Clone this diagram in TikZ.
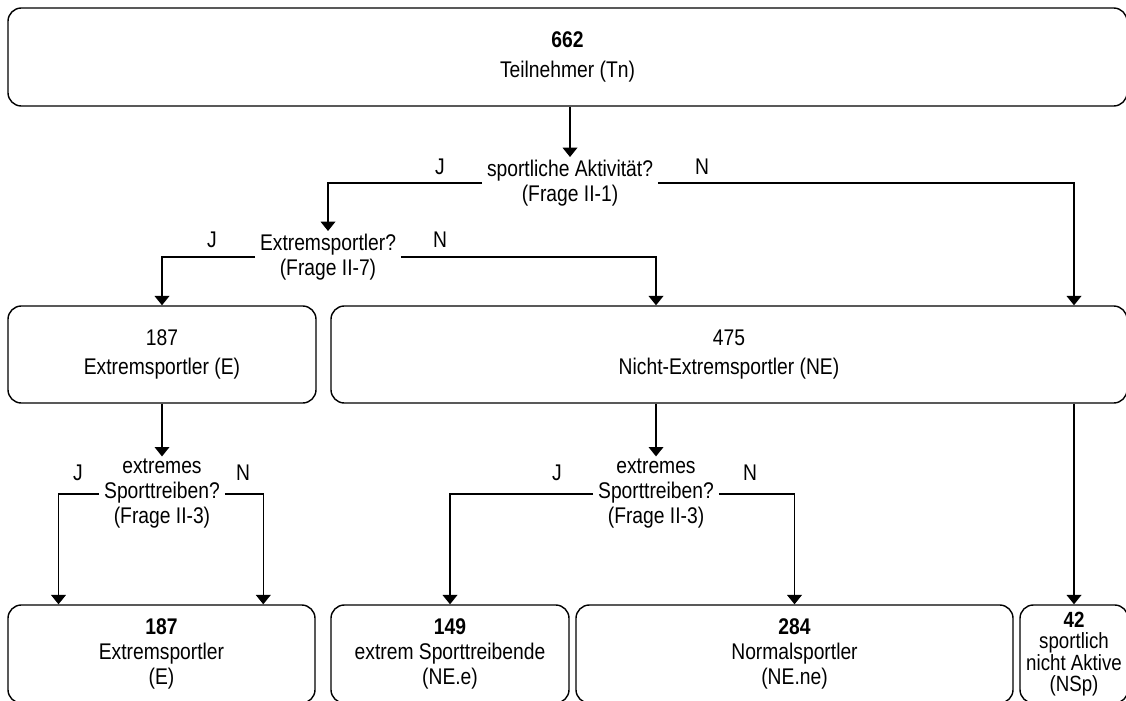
\documentclass[tikz,border=0pt]{standalone}
\usepackage{fontspec}
\setmainfont{Liberation Sans}[FakeStretch=0.85]
\usetikzlibrary{arrows.meta,calc}

% font sizes with different line spacings
\newcommand\fsTop{\fontsize{17pt}{22.5pt}\selectfont}
\newcommand\fsMid{\fontsize{17pt}{21.75pt}\selectfont}
\newcommand\fsAsk{\fontsize{17pt}{18.75pt}\selectfont}
\newcommand\fsLow{\fontsize{17pt}{18.5pt}\selectfont}
\newcommand\fsTight{\fontsize{16.5pt}{16pt}\selectfont}

\tikzset{
  box/.style={draw, line width=1.05pt, rounded corners=10pt, inner sep=0pt, align=center},
  ask/.style={align=center, inner xsep=3.5pt, inner ysep=2pt, font=\fsAsk},
  yn/.style={inner sep=0pt, font=\fsAsk},
  arr/.style={line width=1.05pt, -{Triangle[width=11pt,length=7pt]}},
}

\begin{document}
\begin{tikzpicture}[x=0.75pt,y=-0.75pt]
\useasboundingbox (0,0) rectangle (1126,700);
\clip (0,0) rectangle (1126,700);

% result boxes
\node[box, font=\fsTop, minimum width=839.25pt, minimum height=73.5pt] (tn) at (567.5,57)
  {\textbf{662}\\Teilnehmer (Tn)};
\node[box, font=\fsMid, minimum width=231pt, minimum height=72.75pt] (ex) at (162,354.5)
  {187\\Extremsportler (E)};
\node[box, font=\fsMid, minimum width=597pt, minimum height=72.75pt] (ne) at (729,354.5)
  {475\\Nicht-Extremsportler (NE)};
\node[box, font=\fsLow, minimum width=230.25pt, minimum height=73.5pt] (bex) at (161.5,654)
  {\textbf{187}\\Extremsportler\\(E)};
\node[box, font=\fsLow, minimum width=178.5pt, minimum height=73.5pt] (nee) at (450,654)
  {\textbf{149}\\extrem Sporttreibende\\(NE.e)};
\node[box, font=\fsLow, minimum width=327.75pt, minimum height=73.5pt] (nene) at (794.5,654)
  {\textbf{284}\\Normalsportler\\(NE.ne)};
\node[box, font=\fsTight, minimum width=81pt, minimum height=73.5pt] (nsp) at (1074,654)
  {\textbf{42}\\sportlich\\nicht Aktive\\(NSp)};

% questions
\node[ask] (q1) at (570,183) {sportliche Aktivität?\\(Frage II-1)};
\node[ask] (q2) at (328,257) {Extremsportler?\\(Frage II-7)};
\node[ask] (q3) at (162,494) {extremes\\Sporttreiben?\\(Frage II-3)};
\node[ask] (q4) at (656,494) {extremes\\Sporttreiben?\\(Frage II-3)};

% yes / no labels
\node[yn] (q1j) at (440,167) {J};
\node[yn] (q1n) at (702,167) {N};
\node[yn] (q2j) at (212,240) {J};
\node[yn] (q2n) at (440,240) {N};
\node[yn] (q3j) at (78,473) {J};
\node[yn] (q3n) at (243,473) {N};
\node[yn] (q4j) at (557,473) {J};
\node[yn] (q4n) at (750,473) {N};

% connectors
\draw[arr] (q1.north |- tn.south) -- (q1.north);
\draw[arr] (q1.west) -| (q2.north);
\draw[arr] (q1.east) -| (nsp.north |- ne.north);
\draw[arr] (q2.west) -| (ex.north);
\draw[arr] (q2.east) -| (q4.north |- ne.north);
\draw[arr] (ex.south) -- (q3.north);
\draw[arr] (q3.west) -| ($(bex.north west)!0.166!(bex.north east)$);
\draw[arr] (q3.east) -| ($(bex.north west)!0.830!(bex.north east)$);
\draw[arr] (q4.north |- ne.south) -- (q4.north);
\draw[arr] (q4.west) -| (nee.north);
\draw[arr] (q4.east) -| (nene.north);
\draw[arr] (nsp.north |- ne.south) -- (nsp.north);
\end{tikzpicture}
\end{document}
